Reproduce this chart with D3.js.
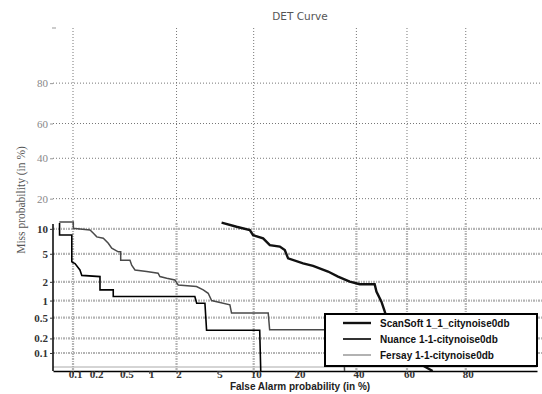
<!DOCTYPE html>
<html>
<head>
<meta charset="utf-8">
<script src="https://cdn.jsdelivr.net/npm/d3@7/dist/d3.min.js"></script>
<style>
  html, body { margin: 0; padding: 0; background: #fff; }
  svg { display: block; }
</style>
</head>
<body>
<script>
// Tick values (percent) on the normal-deviate axes
const xTickValues = [0.1, 0.2, 0.5, 1, 2, 5, 10, 20, 40, 60, 80];
const xGridValues = [0.1, 2, 10, 40, 60, 80];
const yTickUpper = [20, 40, 60, 80];
const yTickLower = [0.1, 0.2, 0.5, 1, 2, 5, 10];

const seriesNames = ["ScanSoft 1_1_citynoise0db", "Nuance 1-1-citynoise0db", "Fersay 1-1-citynoise0db"];

// [false alarm %, miss %]
const scansoft = [
  [5.45, 11.7], [7.31, 10.55], [9.34, 9.68], [9.9, 8.48], [11.76, 7.77], [13.14, 6.45],
  [15.39, 6.17], [16.6, 5.58], [17.44, 4.35], [21.57, 3.72], [24.6, 3.44], [29.56, 2.85],
  [33.1, 2.40], [37.45, 2.02], [41.3, 1.84], [47.2, 1.84], [47.9, 1.41], [49.9, 0.96],
  [51.2, 0.65], [53.2, 0.32], [57.1, 0.16], [61.0, 0.078], [69.5, 0.04]
];
const nuance = [
  [0.063, 11.6], [0.063, 8.5], [0.096, 8.5], [0.096, 3.9], [0.107, 3.7], [0.126, 3.0],
  [0.134, 2.5], [0.24, 2.4], [0.24, 1.5], [0.36, 1.5], [0.36, 1.17], [3.07, 1.17],
  [3.2, 0.9], [3.84, 0.9], [3.98, 0.29], [11.1, 0.29], [11.3, 0.04]
];
const fersay = [
  [0.0625, 11.9], [0.101, 11.9], [0.101, 10.1], [0.107, 10.1], [0.175, 9.7], [0.195, 8.9],
  [0.217, 8.1], [0.266, 7.8], [0.31, 6.8], [0.344, 5.9], [0.418, 5.3], [0.449, 5.3],
  [0.449, 4.1], [0.587, 4.1], [0.616, 3.5], [0.676, 3.0], [0.931, 2.85], [1.26, 2.7],
  [1.32, 2.4], [1.57, 2.27], [1.92, 2.14], [2.08, 1.79], [3.19, 1.69], [3.70, 1.50],
  [4.12, 1.32], [4.43, 1.0], [6.43, 0.845], [6.64, 0.605], [12.8, 0.605], [13.1, 0.296],
  [35.0, 0.296], [35.5, 0.04]
];

// Inverse of the standard normal CDF (Acklam's rational approximation)
function probit(p) {
  const a = [-3.969683028665376e+01, 2.209460984245205e+02, -2.759285104469687e+02, 1.383577518672690e+02, -3.066479806614716e+01, 2.506628277459239e+00];
  const b = [-5.447609879822406e+01, 1.615858368580409e+02, -1.556989798598866e+02, 6.680131188771972e+01, -1.328068155288572e+01];
  const c = [-7.784894002430293e-03, -3.223964580411365e-01, -2.400758277161838e+00, -2.549732539343734e+00, 4.374664141464968e+00, 2.938163982698783e+00];
  const d = [7.784695709041462e-03, 3.224671290700398e-01, 2.445134137142996e+00, 3.754408661907416e+00];
  const pl = 0.02425, ph = 1 - pl;
  let q, r;
  if (p < pl) {
    q = Math.sqrt(-2 * Math.log(p));
    return (((((c[0]*q+c[1])*q+c[2])*q+c[3])*q+c[4])*q+c[5]) / ((((d[0]*q+d[1])*q+d[2])*q+d[3])*q+1);
  }
  if (p <= ph) {
    q = p - 0.5; r = q * q;
    return (((((a[0]*r+a[1])*r+a[2])*r+a[3])*r+a[4])*r+a[5])*q / (((((b[0]*r+b[1])*r+b[2])*r+b[3])*r+b[4])*r+1);
  }
  q = Math.sqrt(-2 * Math.log(1 - p));
  return -(((((c[0]*q+c[1])*q+c[2])*q+c[3])*q+c[4])*q+c[5]) / ((((d[0]*q+d[1])*q+d[2])*q+d[3])*q+1);
}
const dev = v => probit(v / 100);

const W = 542, H = 394;
const plotLeft = 53, plotRight = 537, plotTop = 28, plotBottom = 371;
const splitY = 223; // lower band of heavier grid

const x = d3.scaleLinear().domain([dev(0.05), dev(94)]).range([plotLeft, plotRight]);
const y = d3.scaleLinear().domain([dev(0.04), dev(95)]).range([plotBottom, plotTop]);
const fx = v => x(dev(v));
const fy = v => y(dev(v));

const svg = d3.select("body").append("svg").attr("width", W).attr("height", H);

svg.append("defs").append("clipPath").attr("id", "plot")
  .append("rect").attr("x", plotLeft).attr("y", plotTop)
  .attr("width", plotRight - plotLeft + 10).attr("height", plotBottom - plotTop);

// Title
svg.append("text").attr("x", 300).attr("y", 20).attr("text-anchor", "middle")
  .attr("font-family", "DejaVu Sans, sans-serif").attr("font-size", 10.5).attr("fill", "#555")
  .text("DET Curve");

const grid = svg.append("g");

// light dotted grid in the upper band
grid.selectAll("line.vu").data(xGridValues).join("line").attr("class", "vu")
  .attr("x1", d => fx(d)).attr("x2", d => fx(d))
  .attr("y1", plotTop).attr("y2", splitY)
  .attr("stroke", "#777").attr("stroke-width", 1).attr("stroke-dasharray", "1,2");
grid.selectAll("line.hu").data(yTickUpper).join("line").attr("class", "hu")
  .attr("x1", plotLeft).attr("x2", W)
  .attr("y1", d => fy(d)).attr("y2", d => fy(d))
  .attr("stroke", "#777").attr("stroke-width", 1).attr("stroke-dasharray", "1,2");

// heavier grey grid in the lower band
grid.selectAll("line.vl").data(xGridValues).join("line").attr("class", "vl")
  .attr("x1", d => fx(d)).attr("x2", d => fx(d))
  .attr("y1", splitY).attr("y2", plotBottom)
  .attr("stroke", "#b4b4b4").attr("stroke-width", 2.2).attr("stroke-dasharray", "2,1,1,1");
grid.selectAll("line.hl").data(yTickLower).join("line").attr("class", "hl")
  .attr("x1", plotLeft).attr("x2", W)
  .attr("y1", d => fy(d)).attr("y2", d => fy(d))
  .attr("stroke", "#b4b4b4").attr("stroke-width", 2.2).attr("stroke-dasharray", "2,1,1,1");

// faint floor line
grid.append("line").attr("x1", plotLeft).attr("x2", plotRight)
  .attr("y1", plotBottom - 4).attr("y2", plotBottom - 4)
  .attr("stroke", "#aaa").attr("stroke-width", 1);

// Axes
const xAxis = d3.axisBottom(x)
  .tickValues(xTickValues.map(dev))
  .tickFormat((d, i) => String(xTickValues[i]))
  .tickSize(3).tickSizeOuter(0);
const gx = svg.append("g").attr("transform", `translate(0,${plotBottom})`).call(xAxis);
gx.select(".domain").attr("stroke", "#000").attr("stroke-width", 1.5);
gx.selectAll(".tick line").attr("stroke", "#444");
gx.selectAll("text").attr("font-family", "Liberation Serif, serif").attr("font-size", 11)
  .attr("font-weight", "bold").attr("fill", "#333").attr("dx", 2).attr("dy", 1);

const yAxisLower = d3.axisLeft(y)
  .tickValues(yTickLower.map(dev))
  .tickFormat((d, i) => String(yTickLower[i]))
  .tickSize(3).tickSizeOuter(0);
const gyl = svg.append("g").attr("transform", `translate(${plotLeft},0)`).call(yAxisLower);
gyl.select(".domain").attr("d", `M0,${splitY + 1}V${plotBottom}`).attr("stroke", "#000").attr("stroke-width", 1.5);
gyl.selectAll(".tick line").attr("stroke", "#333");
gyl.selectAll("text").attr("font-family", "Liberation Serif, serif").attr("font-size", 11)
  .attr("font-weight", "bold").attr("fill", "#333").attr("dx", 1);

const yAxisUpper = d3.axisLeft(y)
  .tickValues(yTickUpper.map(dev))
  .tickFormat((d, i) => String(yTickUpper[i]))
  .tickSize(3).tickSizeOuter(0);
const gyu = svg.append("g").attr("transform", `translate(${plotLeft},0)`).call(yAxisUpper);
gyu.select(".domain").remove();
gyu.selectAll(".tick line").attr("stroke", "#999");
gyu.selectAll("text").attr("font-family", "Liberation Serif, serif").attr("font-size", 11)
  .attr("fill", "#888").attr("dx", 1);

// small mark at the top of the axis
svg.append("line").attr("x1", plotLeft - 1).attr("x2", plotLeft + 3).attr("y1", plotTop).attr("y2", plotTop)
  .attr("stroke", "#999").attr("stroke-width", 1);

// Axis titles
svg.append("text").attr("transform", "translate(25,200) rotate(-90)").attr("text-anchor", "middle")
  .attr("font-family", "Liberation Serif, serif").attr("font-size", 11.5).attr("fill", "#555")
  .text("Miss probability (in %)");
svg.append("text").attr("x", 300).attr("y", 390).attr("text-anchor", "middle")
  .attr("font-family", "Liberation Sans, sans-serif").attr("font-size", 10).attr("font-weight", "bold")
  .attr("fill", "#222").text("False Alarm probability (in %)");

// Curves
const line = d3.line().x(d => fx(d[0])).y(d => fy(d[1]));
const series = [
  { name: seriesNames[0], data: scansoft, color: "#111", width: 2.4 },
  { name: seriesNames[1], data: nuance, color: "#000", width: 1.6 },
  { name: seriesNames[2], data: fersay, color: "#4a4a4a", width: 1.5 }
];
const curves = svg.append("g").attr("clip-path", "url(#plot)");
curves.selectAll("path").data(series.slice().reverse()).join("path")
  .attr("d", s => line(s.data))
  .attr("fill", "none").attr("stroke", s => s.color).attr("stroke-width", s => s.width)
  .attr("stroke-linejoin", "miter");

// Legend
const lg = svg.append("g");
lg.append("rect").attr("x", 325).attr("y", 314).attr("width", 212).attr("height", 52)
  .attr("fill", "#fff").attr("stroke", "#000").attr("stroke-width", 2);
const rows = lg.selectAll("g.row").data(series).join("g").attr("class", "row")
  .attr("transform", (d, i) => `translate(0,${323 + i * 16})`);
rows.append("line").attr("x1", 343).attr("x2", 371).attr("y1", 0).attr("y2", 0)
  .attr("stroke", (d, i) => i === 2 ? "#999" : d.color).attr("stroke-width", d => d.width);
rows.append("text").attr("x", 380).attr("y", 4)
  .attr("font-family", "Liberation Sans, sans-serif").attr("font-size", 10).attr("font-weight", "bold")
  .attr("fill", "#111").text(d => d.name);
</script>
</body>
</html>
